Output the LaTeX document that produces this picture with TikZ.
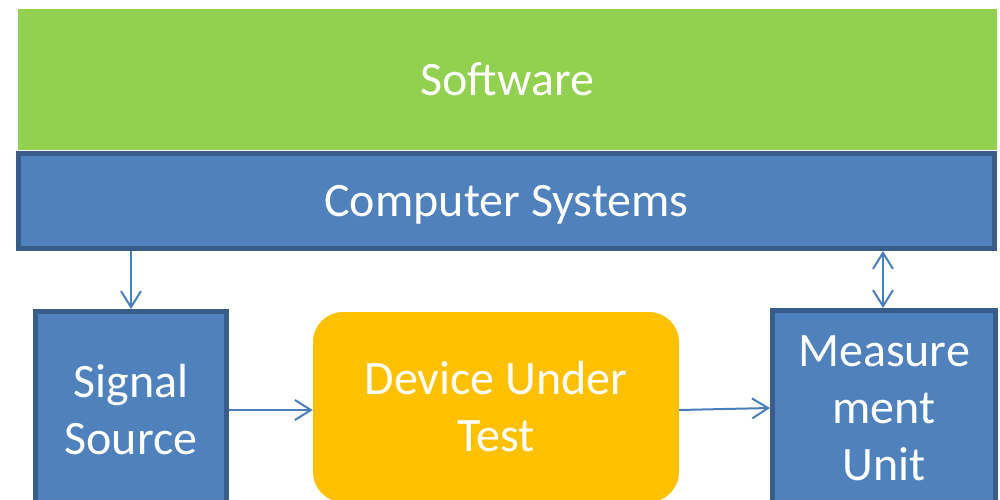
\documentclass[tikz,border=0pt]{standalone}
\usepackage{fontspec}
\setmainfont{Carlito}
\usetikzlibrary{arrows.meta}
\definecolor{swgreen}{HTML}{92D050}
\definecolor{boxblue}{HTML}{4F81BD}
\definecolor{edgeblue}{HTML}{385D8A}
\definecolor{arrowblue}{HTML}{4A7EBB}
\definecolor{dutorange}{HTML}{FFC000}
\tikzset{
  bigtext/.style={text=white, font=\fontsize{48}{57}\selectfont, align=center, inner sep=0pt},
  bluebox/.style={bigtext, fill=boxblue, draw=edgeblue, line width=5pt},
  conn/.style={draw=arrowblue, line width=2pt, -{Straight Barb[length=16pt,width=20pt,line width=2pt]}},
  dconn/.style={draw=arrowblue, line width=2pt, {Straight Barb[length=16pt,width=20pt,line width=2pt]}-{Straight Barb[length=16pt,width=20pt,line width=2pt]}}
}
\begin{document}
\begin{tikzpicture}[x=1pt,y=-1pt]
\useasboundingbox (0,0) rectangle (1000,500);
\clip (0,0) rectangle (1000,500);
\fill[white] (0,0) rectangle (1000,500);
\node[bigtext, fill=swgreen, minimum width=979pt, minimum height=141pt] (sw) at (507.5,79.5) {Software};
\node[bluebox, text depth=0pt, minimum width=976pt, minimum height=95pt] (cs) at (506.5,201) {Computer Systems};
\node[bluebox, minimum width=191pt, minimum height=197pt] (sig) at (131,410) {Signal\\Source};
\node[bigtext, fill=dutorange, rounded corners=30pt, minimum width=366pt, minimum height=190pt] (dut) at (496,407) {Device Under\\Test};
\node[bluebox, minimum width=223pt, minimum height=195pt] (meas) at (884,408) {Measure\\ment\\Unit};
\coordinate (mtop) at (883,0);
\draw[conn] (sig.north |- cs.south) -- (sig.north);
\draw[dconn] (mtop |- cs.south) -- (mtop |- meas.north);
\draw[conn] (sig.east) -- (sig.east -| dut.west);
\draw[conn] (dut.east |- sig.east) -- (meas.west);
\end{tikzpicture}
\end{document}
